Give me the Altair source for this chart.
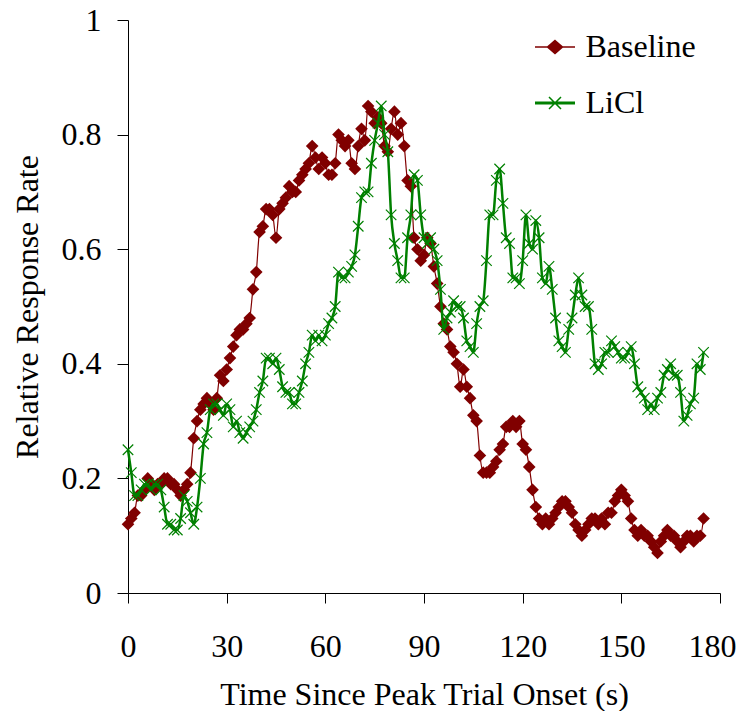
import altair as alt
import pandas as pd

# ---- data ----
time_s = list(range(176))

baseline = [0.12,0.13,0.14,0.17,0.17,0.18,0.20,0.19,0.18,0.19,
            0.19,0.20,0.20,0.19,0.19,0.18,0.17,0.18,0.19,0.21,
            0.27,0.30,0.32,0.33,0.34,0.33,0.32,0.34,0.38,0.37,
            0.39,0.41,0.43,0.45,0.46,0.46,0.47,0.48,0.53,0.56,
            0.63,0.64,0.67,0.67,0.66,0.62,0.67,0.68,0.69,0.71,
            0.70,0.70,0.72,0.73,0.74,0.75,0.78,0.76,0.74,0.76,
            0.75,0.73,0.73,0.75,0.80,0.79,0.78,0.79,0.75,0.74,
            0.78,0.81,0.79,0.85,0.84,0.82,0.83,0.82,0.78,0.77,
            0.81,0.84,0.80,0.82,0.78,0.72,0.71,0.62,0.60,0.58,
            0.59,0.62,0.61,0.57,0.54,0.50,0.47,0.46,0.43,0.42,
            0.40,0.36,0.39,0.36,0.34,0.31,0.30,0.24,0.21,0.21,
            0.21,0.22,0.23,0.25,0.26,0.29,0.29,0.30,0.29,0.30,
            0.26,0.25,0.22,0.18,0.15,0.13,0.12,0.13,0.12,0.13,
            0.14,0.15,0.16,0.16,0.15,0.14,0.12,0.11,0.10,0.11,
            0.12,0.13,0.13,0.12,0.13,0.12,0.14,0.14,0.16,0.17,
            0.18,0.17,0.16,0.13,0.11,0.10,0.11,0.10,0.10,0.09,
            0.08,0.07,0.09,0.10,0.11,0.10,0.10,0.09,0.08,0.09,
            0.10,0.10,0.09,0.10,0.10,0.13]

licl = [0.25,0.21,0.17,0.17,0.18,0.19,0.19,0.18,0.19,0.19,
        0.18,0.15,0.12,0.12,0.11,0.11,0.13,0.17,0.16,0.14,
        0.12,0.15,0.20,0.26,0.28,0.32,0.33,0.33,0.32,0.31,
        0.33,0.32,0.29,0.30,0.28,0.27,0.28,0.29,0.30,0.32,
        0.35,0.37,0.41,0.41,0.40,0.41,0.39,0.36,0.35,0.35,
        0.33,0.33,0.35,0.37,0.40,0.42,0.45,0.44,0.45,0.44,
        0.45,0.47,0.48,0.50,0.56,0.55,0.55,0.56,0.57,0.59,
        0.64,0.69,0.70,0.70,0.75,0.79,0.82,0.85,0.80,0.77,
        0.66,0.61,0.58,0.55,0.55,0.62,0.66,0.73,0.72,0.66,
        0.62,0.61,0.62,0.60,0.58,0.53,0.46,0.48,0.49,0.51,
        0.50,0.50,0.48,0.44,0.43,0.42,0.47,0.50,0.51,0.58,
        0.66,0.66,0.72,0.74,0.68,0.62,0.61,0.55,0.55,0.54,
        0.58,0.66,0.61,0.60,0.65,0.62,0.55,0.54,0.57,0.53,
        0.48,0.44,0.43,0.42,0.46,0.48,0.52,0.55,0.52,0.50,
        0.50,0.46,0.40,0.39,0.40,0.42,0.42,0.44,0.43,0.42,
        0.41,0.41,0.42,0.43,0.40,0.36,0.35,0.34,0.32,0.33,
        0.32,0.34,0.35,0.38,0.39,0.40,0.38,0.38,0.35,0.30,
        0.31,0.33,0.34,0.40,0.39,0.42]

series_names = ["Baseline", "LiCl"]
series_colors = ["#800000", "#008000"]
x_ticks = [0, 30, 60, 90, 120, 150, 180]
y_ticks = [0, 0.2, 0.4, 0.6, 0.8, 1]

df = pd.concat([
    pd.DataFrame({"t": time_s, "rate": baseline, "series": "Baseline"}),
    pd.DataFrame({"t": time_s, "rate": licl, "series": "LiCl"}),
], ignore_index=True)

FONT = "Liberation Serif"
X_PATH = "M-1,-1L1,1M-1,1L1,-1"

# legend symbols: line + marker drawn as stroked paths
def diamond_stack():
    parts = []
    for k in [1.0, 0.8, 0.6, 0.4, 0.2]:
        parts.append(f"M0,{-0.87*k:.3f}L{k:.3f},0L0,{0.87*k:.3f}L{-k:.3f},0Z")
    return "".join(parts)

LEG_BASE = "M-2.67,0H2.67" + diamond_stack()
LEG_LICL = "M-2.67,-0.1H2.67M-2.67,0H2.67M-2.67,0.1H2.67M-0.8,-0.8L0.8,0.8M-0.8,0.8L0.8,-0.8"

xenc = alt.X("t:Q", scale=alt.Scale(domain=[0, 180], nice=False),
             axis=alt.Axis(values=x_ticks, title="Time Since Peak Trial Onset (s)",
                           tickSize=10, labelPadding=28, titleY=111, labelFlush=False,
                           labelOffset={"condition": {"test": "datum.value == 180", "value": -8},
                                        "value": 0},
                           titleBaseline="alphabetic"))
yenc = alt.Y("rate:Q", scale=alt.Scale(domain=[0, 1], nice=False),
             axis=alt.Axis(values=y_ticks, format="~g", title="Relative Response Rate",
                           tickSize=11, labelPadding=16, titleX=-91, labelFlush=False,
                           titleBaseline="alphabetic"))

base = alt.Chart(df).encode(x=xenc, y=yenc)

b_line = base.transform_filter(alt.datum.series == "Baseline").mark_line(
    color=series_colors[0], strokeWidth=1.2, interpolate="monotone")
b_pts = base.transform_filter(alt.datum.series == "Baseline").mark_point(
    shape="diamond", filled=True, color=series_colors[0], size=160, opacity=1)
l_line = base.transform_filter(alt.datum.series == "LiCl").mark_line(
    color=series_colors[1], strokeWidth=2.5, interpolate="monotone")
l_pts = base.transform_filter(alt.datum.series == "LiCl").mark_point(
    shape=X_PATH, filled=False, color=series_colors[1], size=110,
    strokeWidth=1.2, opacity=1)

leg = alt.Legend(title=None, orient="none", legendX=411, legendY=11,
                 labelFont=FONT, labelFontSize=32, labelColor="black",
                 symbolSize=225, symbolStrokeWidth=1.5,
                 labelOffset=14.5, rowPadding=24, padding=0, symbolOpacity=1)

legend_layer = base.transform_filter("false").mark_point(filled=False, opacity=1).encode(
    color=alt.Color("series:N",
                    scale=alt.Scale(domain=series_names, range=series_colors),
                    legend=leg),
    shape=alt.Shape("series:N",
                    scale=alt.Scale(domain=series_names, range=[LEG_BASE, LEG_LICL]),
                    legend=leg),
)

chart = alt.layer(b_line, b_pts, l_line, l_pts, legend_layer).properties(
    width=592, height=573,
    autosize=alt.AutoSizeParams(type="none"),
    padding={"left": 120, "top": 12, "right": 17, "bottom": 118},
).configure_view(stroke=None).configure_axis(
    grid=False, domainColor="black", tickColor="black", domainWidth=1, tickWidth=1,
    labelFont=FONT, labelFontSize=32, labelColor="black",
    titleFont=FONT, titleFontSize=32, titleFontWeight="normal", titleColor="black",
)

chart.save("out.html", embed_options={"renderer": "svg", "actions": False})
